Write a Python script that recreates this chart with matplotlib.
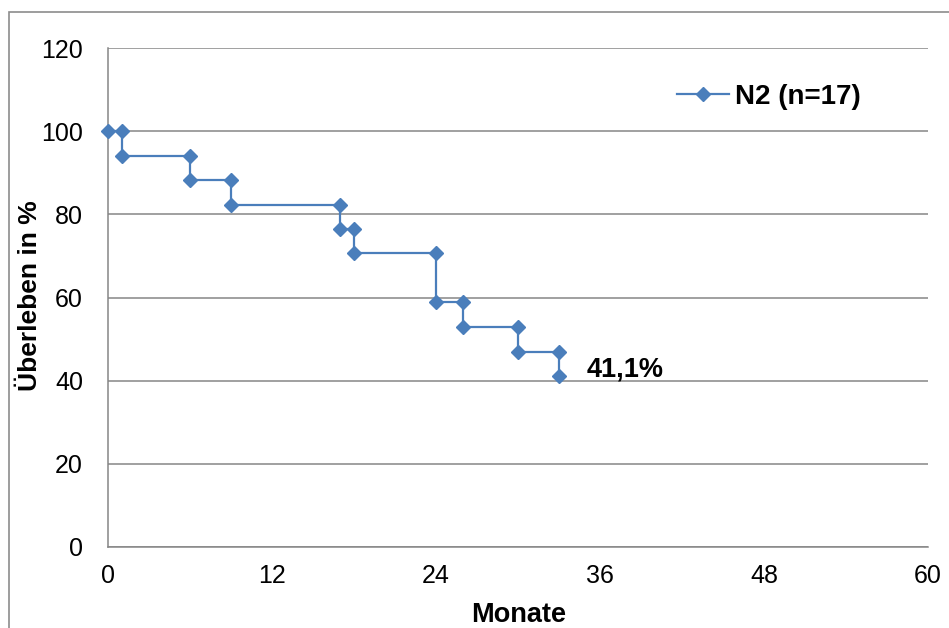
import matplotlib
matplotlib.use("Agg")
import matplotlib.pyplot as plt
from matplotlib.patches import Rectangle

plt.rcParams['font.family'] = ['Liberation Sans', 'DejaVu Sans']

# Kaplan-Meier survival estimate (months, percent surviving)
months = [0, 1, 1, 6, 6, 9, 9, 17, 17, 18, 18, 24, 24, 26, 26, 30, 30, 33, 33]
survival = [100, 100, 94.1, 94.1, 88.2, 88.2, 82.3, 82.3, 76.5, 76.5, 70.6,
            70.6, 58.8, 58.8, 52.9, 52.9, 47.0, 47.0, 41.1]
series_label = "N2 (n=17)"
final_label = "41,1%"
x_ticks = [0, 12, 24, 36, 48, 60]
y_ticks = [0, 20, 40, 60, 80, 100, 120]

W, H = 949, 628
fig = plt.figure(figsize=(W / 100, H / 100), dpi=100)
fig.patch.set_facecolor('white')

# outer chart frame
fig.patches.append(Rectangle((9 / W, -0.05), 1.2, 1 - 12 / H + 0.05,
                             transform=fig.transFigure, fill=False,
                             edgecolor='#8c8c8c', linewidth=1.2))

ax = fig.add_axes([108 / W, 1 - 547 / H, 820 / W, 499 / H])
color = '#4A7EBB'
ax.plot(months, survival, color=color, linewidth=1.6, marker='D',
        markersize=7, label=series_label, zorder=3, clip_on=False)

ax.set_xlim(0, 60)
ax.set_ylim(0, 120)
ax.set_xticks(x_ticks)
ax.set_yticks(y_ticks)
ax.tick_params(length=0, labelsize=18)
ax.tick_params(axis='y', pad=18)
ax.tick_params(axis='x', pad=12)
ax.yaxis.grid(True, color='#868686', linewidth=1.1)
ax.set_axisbelow(True)
for side in ['top', 'right']:
    ax.spines[side].set_visible(False)
for side in ['left', 'bottom']:
    ax.spines[side].set_color('#868686')
    ax.spines[side].set_linewidth(1.1)

# final survival estimate next to the last step
ax.text(months[-1] + 2.0, survival[-1] - 0.2, final_label, fontsize=19.5,
        fontweight='bold', ha='left', va='baseline')

ax.legend(loc='center left', bbox_to_anchor=((677 - 108) / 820, (547 - 97) / 499),
          frameon=False, borderpad=0, borderaxespad=0, handlelength=1.87,
          handletextpad=0.22, prop={'size': 20, 'weight': 'bold'})

fig.text(30 / W, 1 - 296 / H, "Überleben in %", rotation=90, fontsize=19,
         fontweight='bold', ha='center', va='center')
fig.text(519 / W, 1 - 615 / H, "Monate", fontsize=19.5, fontweight='bold',
         ha='center', va='center')

fig.savefig('out.png', dpi=100)
